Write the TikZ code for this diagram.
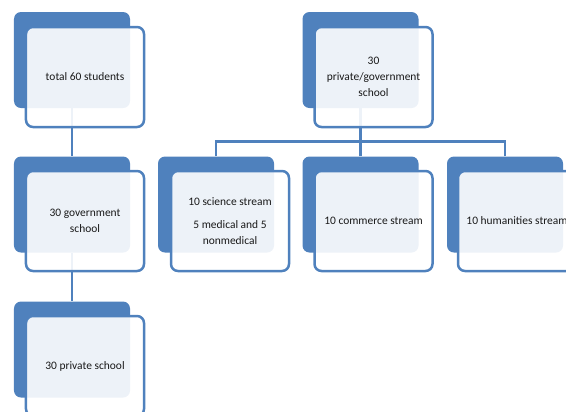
\documentclass[tikz,border=0pt]{standalone}
\usepackage{fontspec}
\setmainfont{Carlito}
\usetikzlibrary{calc}
\definecolor{boxblue}{HTML}{4F81BD}
\tikzstyle{backbox}=[rectangle,rounded corners=7bp,fill=boxblue,minimum width=116bp,minimum height=96bp,inner sep=0pt]
\tikzstyle{frontbox}=[rectangle,rounded corners=7bp,draw=boxblue,line width=2.5bp,fill=white,fill opacity=0.9,text opacity=1,minimum width=118bp,minimum height=100bp,inner sep=0pt,align=center,text=black!90,font=\fontsize{11.5}{16}\selectfont]
\tikzstyle{edge} = [draw=boxblue,line width=2.6bp]

\begin{document}
\begin{tikzpicture}[x=1bp,y=-1bp]

    \useasboundingbox (0,0) rectangle (566,411);

    % back cards
    \foreach \pos/ \name in {{(72,60)/total},{(72,204.5)/gov},{(72,349.5)/priv},{(360.5,60)/pg},{(216,204.5)/sci},{(360.5,204.5)/com},{(505,204.5)/hum}}
        \node[backbox] (\name) at \pos {};

    % Connect cards with edges
    \foreach \source/ \dest in {total/gov,gov/priv}
        \draw[edge] (\source.south) -- (\dest.north);
    \draw[edge] (pg.south) -- ++(0,33) coordinate (bus);
    \foreach \dest in {sci,com,hum}
        \draw[edge] (\dest.north) |- (bus);

    % front cards with the texts
    \foreach \pos/ \name / \label in {{(85,77)/totalF/{total 60 students}},{(85,221)/govF/{30 government\\school}},{(85,366)/privF/{30 private school}},{(373.5,77)/pgF/{30\\private/government\\school}},{(230,221)/sciF/{10 science stream\\[7bp]5 medical and 5\\nonmedical}},{(373.5,221)/comF/{10 commerce stream}},{(517,221)/humF/{10 humanities stream}}}
        \node[frontbox] (\name) at \pos {\label};

\end{tikzpicture}
\end{document}
